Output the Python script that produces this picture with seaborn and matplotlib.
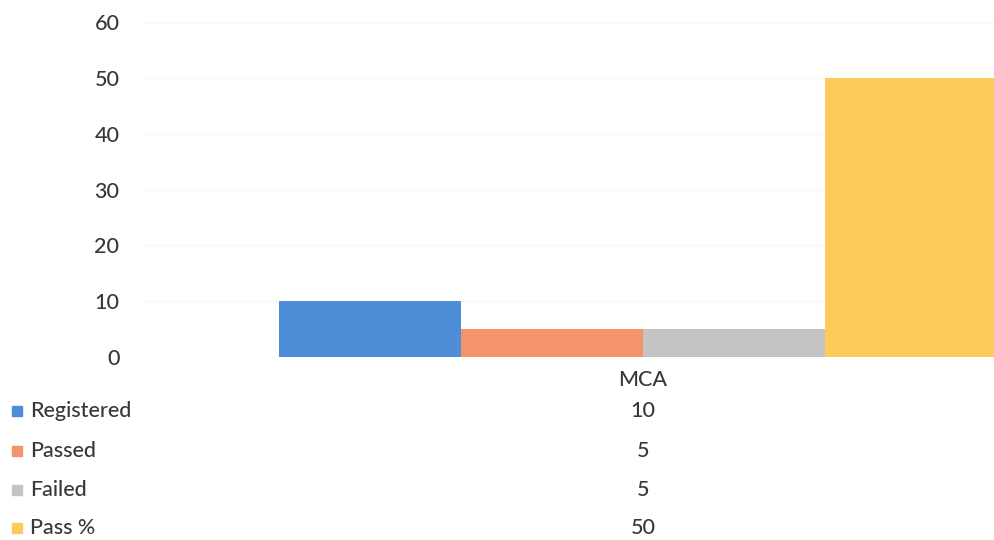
import matplotlib
matplotlib.use("Agg")
import matplotlib.pyplot as plt
from matplotlib.patches import Rectangle
from matplotlib.transforms import blended_transform_factory
import seaborn as sns
import pandas as pd

# Results data
categories = ["MCA"]
series = ["Registered", "Passed", "Failed", "Pass %"]
values = [10, 5, 5, 50]
colors = ["#4E8ED8", "#F5946A", "#C4C5C3", "#FDCA5C"]
y_ticks = [0, 10, 20, 30, 40, 50, 60]

df = pd.DataFrame({
    "course": categories * len(series),
    "series": series,
    "value": values,
})

sns.set_theme(style="white")
plt.rcParams["font.family"] = ["Lato", "DejaVu Sans"]
text_color = "#383838"
fs = 15.5

W, H = 995, 540
fig = plt.figure(figsize=(W / 100, H / 100), dpi=100)
# plot area runs past the right edge of the figure
ax = fig.add_axes([143 / W, (H - 357) / H, 1000 / W, (357 - 22) / H])

sns.barplot(data=df, x="course", y="value", hue="series", hue_order=series,
            palette=colors, width=0.729, gap=0, saturation=1, ax=ax,
            legend=False, errorbar=None, linewidth=0, edgecolor="none")

ax.set_ylim(0, 60)
ax.set_xlim(-0.5, 0.5)
ax.set_yticks(y_ticks)
ax.set_yticklabels([str(t) for t in y_ticks], fontsize=fs, color=text_color,
                   fontweight="medium")
ax.tick_params(axis="y", length=0, pad=17)
ax.set_xticks([])
ax.set_xlabel("")
ax.set_ylabel("")
for s in ax.spines.values():
    s.set_visible(False)
ax.yaxis.grid(True, color="#F6F6F6", linewidth=1)
ax.set_axisbelow(True)

# data table below the plot
trans = blended_transform_factory(ax.transData, fig.transFigure)
ax.text(0, 1 - 380 / H, categories[0], transform=trans, ha="center",
        va="center", fontsize=fs, color=text_color, fontweight="medium",
        clip_on=False)
row_y = [411, 451, 490, 528]
for name, val, col, yp in zip(series, values, colors, row_y):
    yf = 1 - yp / H
    fig.patches.append(Rectangle((12 / W, yf - 5 / H), 10 / W, 10 / H,
                                 transform=fig.transFigure, color=col))
    fig.text(30 / W, yf, name, ha="left", va="center", fontsize=fs,
             color=text_color, fontweight="medium")
    ax.text(0, yf, str(val), transform=trans, ha="center", va="center",
            fontsize=fs, color=text_color, fontweight="medium", clip_on=False)

fig.savefig("out.png", dpi=100)
